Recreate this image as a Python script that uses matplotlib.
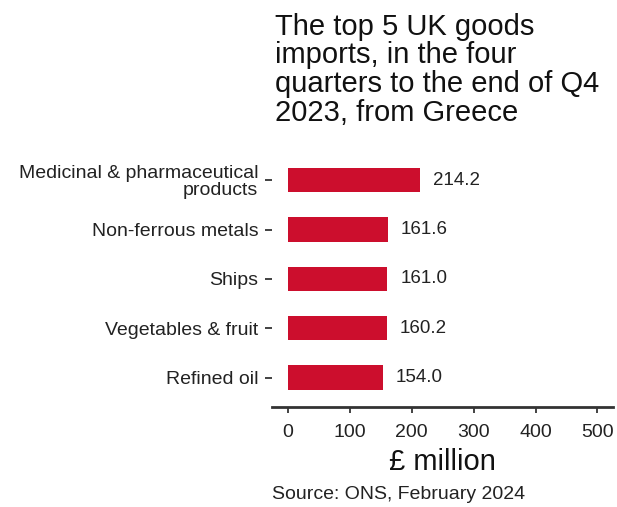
import matplotlib
matplotlib.use("Agg")
import matplotlib.pyplot as plt

categories = ["Medicinal & pharmaceutical\nproducts", "Non-ferrous metals", "Ships",
              "Vegetables & fruit", "Refined oil"]
values = [214.2, 161.6, 161.0, 160.2, 154.0]
xticks = [0, 100, 200, 300, 400, 500]

plt.rcParams["font.family"] = ["Liberation Sans", "DejaVu Sans"]

fig = plt.figure(figsize=(6.17, 5.07), dpi=100)
ax = fig.add_axes([0.441, 0.197, 0.5525, 0.506])

pos = list(range(len(categories)))[::-1]
ax.barh(pos, values, height=0.49, color="#CC0E2D")
for p, v in zip(pos, values):
    ax.text(v + 21, p, f"{v:.1f}", va="center", ha="left", fontsize=13.5, color="#222222")

ax.set_xlim(-25, 525)
ax.set_ylim(-0.6, len(categories) - 0.4)
ax.set_xticks(xticks)
ax.set_yticks(pos)
ax.set_yticklabels(categories, fontsize=14, color="#222222", linespacing=0.95)
ax.tick_params(axis="x", labelsize=14, colors="#222222", length=4, width=1.2, pad=8.5)
ax.tick_params(axis="y", length=5, width=1.3, color="#333333", pad=5)

for s in ["top", "right", "left"]:
    ax.spines[s].set_visible(False)
ax.spines["bottom"].set_linewidth(2)
ax.spines["bottom"].set_color("#333333")

ax.set_xlabel("£ million", fontsize=21, color="#111111", labelpad=5)

fig.text(0.446, 0.975, "The top 5 UK goods\nimports, in the four\nquarters to the end of Q4\n2023, from Greece",
         ha="left", va="top", fontsize=21, color="#111111", linespacing=1.03)
fig.text(0.441, 0.008, "Source: ONS, February 2024", ha="left", va="bottom", fontsize=14,
         color="#222222")

fig.savefig("out.png", dpi=100)
